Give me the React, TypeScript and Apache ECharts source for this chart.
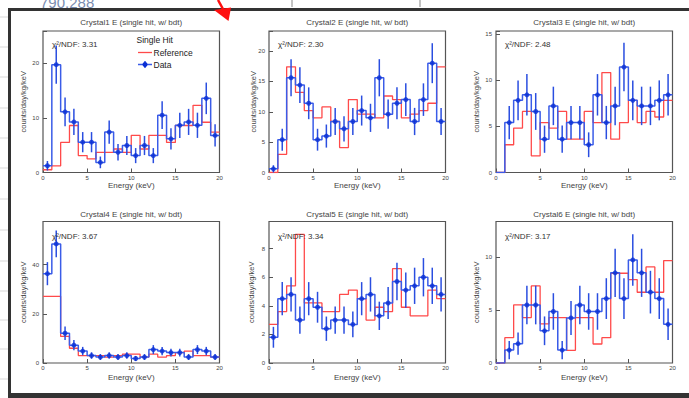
import React, { useEffect, useRef } from "react";
import * as echarts from "echarts";

// ---------- data ----------
const binEdges = [0, 1, 2, 3, 4, 5, 6, 7, 8, 9, 10, 11, 12, 13, 14, 15, 16, 17, 18, 19, 20];
const binCenters = [0.5, 1.5, 2.5, 3.5, 4.5, 5.5, 6.5, 7.5, 8.5, 9.5, 10.5, 11.5, 12.5, 13.5, 14.5, 15.5, 16.5, 17.5, 18.5, 19.5];

const crystal1Data = [1.23, 19.74, 11.1, 9.26, 5.55, 5.55, 1.85, 7.4, 3.7, 4.94, 3.09, 4.94, 3.09, 10.49, 6.17, 8.64, 9.26, 8.64, 13.57, 6.79];
const crystal1Err = [0.87, 3.49, 2.62, 2.39, 1.85, 1.85, 1.07, 2.14, 1.51, 1.75, 1.38, 1.75, 1.38, 2.54, 1.95, 2.31, 2.39, 2.31, 2.89, 2.05];
const crystal1Ref = [0.5, 1.2, 5.5, 8.6, 3.1, 2.5, 3.7, 3.7, 4.3, 3.7, 6.8, 4.3, 6.8, 6.8, 5.5, 8.6, 8.6, 12.3, 9.2, 7.4];

const crystal2Data = [0.6, 5.4, 15.6, 14.4, 11.4, 5.4, 6.0, 8.4, 7.2, 8.4, 10.2, 9.0, 15.6, 9.6, 11.4, 12.0, 8.4, 12.0, 18.0, 8.4];
const crystal2Err = [0.6, 1.8, 3.06, 2.94, 2.62, 1.8, 1.9, 2.24, 2.08, 2.24, 2.47, 2.32, 3.06, 2.4, 2.62, 2.68, 2.24, 2.68, 3.29, 2.24];
const crystal2Ref = [0, 3.0, 17.4, 13.2, 10.2, 9.0, 10.8, 8.4, 4.1, 12.0, 9.6, 9.6, 9.0, 12.6, 12.0, 9.0, 9.6, 10.2, 11.4, 17.4];

const crystal3Data = [0, 5.4, 7.8, 8.4, 6.6, 3.6, 7.2, 3.6, 5.4, 5.4, 3.0, 8.4, 5.4, 7.2, 11.4, 7.8, 7.2, 7.2, 7.8, 8.4];
const crystal3Err = [0, 1.8, 2.16, 2.24, 1.99, 1.47, 2.08, 1.47, 1.8, 1.8, 1.34, 2.24, 1.8, 2.08, 2.62, 2.16, 2.08, 2.08, 2.16, 2.24];
const crystal3Ref = [0, 3.0, 4.8, 6.6, 1.8, 5.4, 4.8, 6.6, 3.6, 3.6, 6.6, 5.4, 10.8, 3.6, 5.4, 7.8, 5.4, 6.6, 6.0, 7.8];

const crystal4Data = [36.3, 48.4, 12.1, 7.26, 4.84, 3.03, 2.42, 3.03, 2.42, 3.03, 1.82, 2.42, 5.45, 4.84, 4.24, 4.24, 2.42, 5.45, 4.84, 2.42];
const crystal4Err = [4.69, 5.41, 2.71, 2.1, 1.71, 1.35, 1.21, 1.35, 1.21, 1.35, 1.05, 1.21, 1.82, 1.71, 1.6, 1.6, 1.21, 1.82, 1.71, 1.21];
const crystal4Ref = [27.1, 27.1, 10.8, 6.0, 3.0, 3.0, 3.0, 2.4, 3.0, 3.6, 3.6, 2.4, 3.6, 2.4, 3.0, 4.2, 4.8, 3.0, 3.0, 2.4];

const crystal5Data = [1.8, 4.5, 4.8, 3.0, 4.5, 3.9, 2.4, 3.0, 3.0, 2.7, 4.5, 4.8, 3.3, 4.2, 5.7, 5.1, 5.4, 6.0, 5.4, 4.8];
const crystal5Err = [0.73, 1.16, 1.2, 0.95, 1.16, 1.08, 0.85, 0.95, 0.95, 0.9, 1.16, 1.2, 0.99, 1.12, 1.31, 1.24, 1.27, 1.34, 1.27, 1.2];
const crystal5Ref = [2.7, 3.6, 5.4, 9.0, 4.2, 4.2, 3.6, 3.6, 4.8, 5.1, 4.5, 3.0, 3.9, 3.6, 6.6, 3.9, 3.3, 3.3, 5.1, 4.5];

const crystal6Data = [0, 1.22, 1.83, 5.49, 5.49, 3.05, 4.88, 1.22, 4.27, 5.49, 4.88, 4.88, 6.1, 8.54, 6.1, 9.76, 8.54, 6.71, 6.1, 3.66];
const crystal6Err = [0, 0.86, 1.06, 1.83, 1.83, 1.36, 1.73, 0.86, 1.61, 1.83, 1.73, 1.73, 1.93, 2.28, 1.93, 2.44, 2.28, 2.02, 1.93, 1.49];
const crystal6Ref = [0, 2.4, 5.5, 4.3, 7.3, 3.7, 4.3, 4.3, 1.2, 4.3, 4.3, 1.8, 2.4, 8.5, 8.5, 7.9, 6.7, 9.1, 6.7, 9.7];

const panelTitles = [
  "Crystal1 E (single hit, w/ bdt)",
  "Crystal2 E (single hit, w/ bdt)",
  "Crystal3 E (single hit, w/ bdt)",
  "Crystal4 E (single hit, w/ bdt)",
  "Crystal5 E (single hit, w/ bdt)",
  "Crystal6 E (single hit, w/ bdt)",
];
const chi2Values = ["3.31", "2.30", "2.48", "3.67", "3.34", "3.17"];
const yMaxValues = [25.9, 23.3, 15.3, 57.5, 9.9, 13.4];
const yTickSteps = [10, 5, 5, 20, 2, 5];
const xTickStep = 5;
const xAxisTitle = "Energy (keV)";
const yAxisTitle = "counts/day/kg/keV";
const legendHeader = "Single Hit";
const legendRef = "Reference";
const legendData = "Data";

// ---------- layout / style ----------
const W = 689;
const H = 398;
const FONT = "'Liberation Sans', Arial, Helvetica, sans-serif";
const LEFTS = [43, 269, 496, 43, 269, 496];
const TOPS = [31, 31, 31, 221.5, 221.5, 221.5];
const PW = 176.5;
const PH = 141.5;
const YTITLE_X = [23.5, 253.5, 476, 23.5, 251, 476];
const RED = "#ff4a4a";
const BLUE_LINE = "#3a5ce8";
const BLUE_ERR = "#2a4ee0";
const BLUE_MARK = "#0a2fd4";
const AXIS_C = "#555";

const panels = [
  { data: crystal1Data, err: crystal1Err, ref: crystal1Ref },
  { data: crystal2Data, err: crystal2Err, ref: crystal2Ref },
  { data: crystal3Data, err: crystal3Err, ref: crystal3Ref },
  { data: crystal4Data, err: crystal4Err, ref: crystal4Ref },
  { data: crystal5Data, err: crystal5Err, ref: crystal5Ref },
  { data: crystal6Data, err: crystal6Err, ref: crystal6Ref },
];

function stepPoints(vals: number[]) {
  return binEdges.map((e, i) => [e, vals[Math.min(i, vals.length - 1)]]);
}

export default function App() {
  const ref = useRef<HTMLDivElement>(null);
  useEffect(() => {
    document.body.style.margin = "0";
    const chart = echarts.init(ref.current!, null, { renderer: "svg", width: W, height: H });

    const grids = panels.map((_, i) => ({
      left: LEFTS[i],
      top: TOPS[i],
      width: PW,
      height: PH,
      show: true,
      borderColor: AXIS_C,
      borderWidth: 1.2,
      backgroundColor: "transparent",
      containLabel: false,
    }));

    const xAxes = panels.map((_, i) => ({
      type: "value",
      gridIndex: i,
      min: 0,
      max: 20,
      interval: xTickStep,
      axisLine: { show: false },
      splitLine: { show: false },
      axisTick: { show: true, inside: true, length: 4, lineStyle: { color: AXIS_C, width: 1 } },
      axisLabel: { fontSize: 6, color: "#444", margin: 2, fontFamily: FONT },
    }));

    const yAxes = panels.map((_, i) => ({
      type: "value",
      gridIndex: i,
      min: 0,
      max: yMaxValues[i],
      interval: yTickSteps[i],
      axisLine: { show: false },
      splitLine: { show: false },
      axisTick: { show: true, inside: true, length: 4, lineStyle: { color: AXIS_C, width: 1 } },
      axisLabel: {
        fontSize: 6,
        color: "#444",
        margin: 4,
        fontFamily: FONT,
        formatter: (v: number) => (Math.abs(v / yTickSteps[i] - Math.round(v / yTickSteps[i])) < 1e-6 ? String(v) : ""),
      },
    }));

    const series: any[] = [];
    panels.forEach((p, i) => {
      series.push({
        type: "line",
        xAxisIndex: i,
        yAxisIndex: i,
        step: "end",
        showSymbol: false,
        silent: true,
        data: stepPoints(p.ref),
        lineStyle: { color: RED, width: 1.3 },
        z: 2,
      });
      series.push({
        type: "line",
        xAxisIndex: i,
        yAxisIndex: i,
        step: "end",
        showSymbol: false,
        silent: true,
        data: stepPoints(p.data),
        lineStyle: { color: BLUE_LINE, width: 1.5 },
        z: 3,
      });
      series.push({
        type: "custom",
        xAxisIndex: i,
        yAxisIndex: i,
        silent: true,
        z: 4,
        data: binCenters.map((c, k) => [c, p.data[k], p.err[k]]).filter((d) => d[1] > 0),
        renderItem: (_params: any, api: any) => {
          const x = api.value(0);
          const y = api.value(1);
          const e = api.value(2);
          const a = api.coord([x, y - e]);
          const b = api.coord([x, y + e]);
          return {
            type: "line",
            shape: { x1: a[0], y1: a[1], x2: b[0], y2: b[1] },
            style: { stroke: BLUE_ERR, lineWidth: 1.5 },
          };
        },
      });
      series.push({
        type: "scatter",
        xAxisIndex: i,
        yAxisIndex: i,
        silent: true,
        symbol: "circle",
        symbolSize: 5,
        itemStyle: { color: BLUE_MARK },
        data: binCenters.map((c, k) => [c, p.data[k]]).filter((d) => d[1] > 0),
        z: 5,
      });
    });

    const graphics: any[] = [];
    // outside background details
    const sideLines = [17, 47, 77, 108, 138, 168, 199, 230, 261, 291, 320, 349, 379];
    sideLines.forEach((y) =>
      graphics.push({ type: "line", shape: { x1: 0, y1: y, x2: 8, y2: y }, style: { stroke: "#d9d9d9", lineWidth: 1 }, z: 1 })
    );
    graphics.push({
      type: "text",
      x: 40,
      y: -5,
      style: { text: "790.288", fontSize: 15, fontFamily: FONT, fill: "#7b8db0", verticalAlign: "top" },
      z: 1,
    });
    [292, 420].forEach((x) =>
      graphics.push({ type: "line", shape: { x1: x, y1: 0, x2: x, y2: 7 }, style: { stroke: "#888", lineWidth: 1 }, z: 1 })
    );
    // dark frame
    graphics.push({ type: "rect", shape: { x: 8, y: 8, width: 681, height: 3 }, style: { fill: "#333" }, z: 10 });
    graphics.push({ type: "rect", shape: { x: 8, y: 8, width: 3, height: 390 }, style: { fill: "#333" }, z: 10 });
    graphics.push({ type: "rect", shape: { x: 8, y: 393, width: 681, height: 5 }, style: { fill: "#333" }, z: 10 });
    // red arrow
    graphics.push({ type: "line", shape: { x1: 218, y1: 0, x2: 223.5, y2: 10 }, style: { stroke: "#ff1010", lineWidth: 2.5 }, z: 11 });
    graphics.push({
      type: "polygon",
      shape: { points: [[214, 10], [231, 7.5], [228.5, 21]] },
      style: { fill: "#ff1010" },
      z: 11,
    });

    panels.forEach((_, i) => {
      const cx = LEFTS[i] + PW / 2;
      const row2 = i >= 3;
      graphics.push({
        type: "text",
        x: cx,
        y: row2 ? 214.5 : 22.5,
        style: { text: panelTitles[i], fontSize: 8, fontFamily: FONT, fill: "#444", align: "center", verticalAlign: "middle" },
        z: 12,
      });
      graphics.push({
        type: "text",
        x: LEFTS[i] + 9,
        y: row2 ? 236 : 44,
        style: { text: "\u03c7\u00b2/NDF: " + chi2Values[i], fontSize: 8, fontFamily: FONT, fill: "#333", align: "left", verticalAlign: "middle" },
        z: 12,
      });
      graphics.push({
        type: "text",
        x: cx,
        y: row2 ? 377.5 : 185,
        style: { text: xAxisTitle, fontSize: 8, fontFamily: FONT, fill: "#444", align: "center", verticalAlign: "middle" },
        z: 12,
      });
      graphics.push({
        type: "text",
        x: YTITLE_X[i],
        y: TOPS[i] + PH / 2,
        rotation: Math.PI / 2,
        style: { text: yAxisTitle, fontSize: 7.5, fontFamily: FONT, fill: "#444", align: "center", verticalAlign: "middle" },
        z: 12,
      });
    });

    // legend in panel 1
    graphics.push({
      type: "text",
      x: 136.5,
      y: 40,
      style: { text: legendHeader, fontSize: 8.5, fontFamily: FONT, fill: "#222", align: "left", verticalAlign: "middle" },
      z: 12,
    });
    graphics.push({ type: "line", shape: { x1: 138, y1: 52.5, x2: 152, y2: 52.5 }, style: { stroke: RED, lineWidth: 1.3 }, z: 12 });
    graphics.push({
      type: "text",
      x: 153.5,
      y: 52.5,
      style: { text: legendRef, fontSize: 8.5, fontFamily: FONT, fill: "#222", align: "left", verticalAlign: "middle" },
      z: 12,
    });
    graphics.push({ type: "line", shape: { x1: 138, y1: 64.5, x2: 152, y2: 64.5 }, style: { stroke: BLUE_LINE, lineWidth: 1.5 }, z: 12 });
    graphics.push({ type: "line", shape: { x1: 145, y1: 61, x2: 145, y2: 68 }, style: { stroke: BLUE_ERR, lineWidth: 1.5 }, z: 12 });
    graphics.push({ type: "circle", shape: { cx: 145, cy: 64.5, r: 2.5 }, style: { fill: BLUE_MARK }, z: 12 });
    graphics.push({
      type: "text",
      x: 153.5,
      y: 64.5,
      style: { text: legendData, fontSize: 8.5, fontFamily: FONT, fill: "#222", align: "left", verticalAlign: "middle" },
      z: 12,
    });

    chart.setOption({
      animation: false,
      backgroundColor: "#ffffff",
      textStyle: { fontFamily: FONT },
      grid: grids,
      xAxis: xAxes,
      yAxis: yAxes,
      series,
      graphic: { elements: graphics },
    });
    return () => chart.dispose();
  }, []);
  return <div ref={ref} style={{ width: W, height: H }} />;
}
